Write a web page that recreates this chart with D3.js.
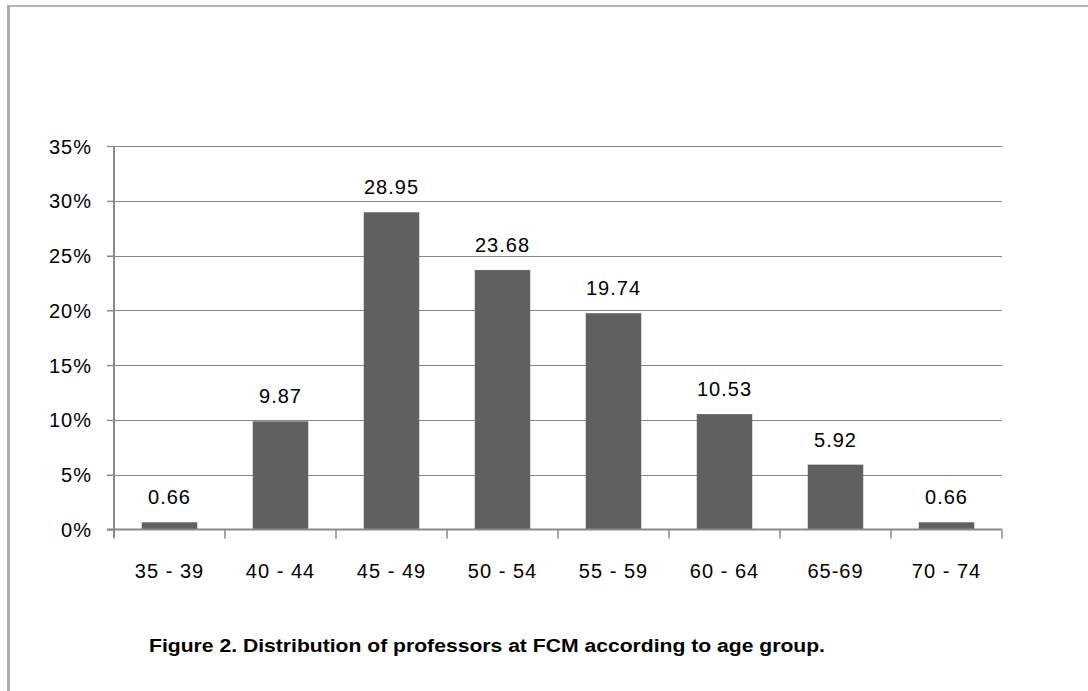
<!DOCTYPE html>
<html>
<head>
<meta charset="utf-8">
<script src="https://cdn.jsdelivr.net/npm/d3@7"></script>
<style>
html,body{margin:0;padding:0;background:#fff;}
svg{display:block;}
text{font-family:"Liberation Sans",Arial,sans-serif;}
</style>
</head>
<body>
<svg id="chart" width="1088" height="691"></svg>
<script>
const categories = ["35 - 39","40 - 44","45 - 49","50 - 54","55 - 59","60 - 64","65-69","70 - 74"];
const values = [0.66, 9.87, 28.95, 23.68, 19.74, 10.53, 5.92, 0.66];
const valueLabels = ["0.66","9.87","28.95","23.68","19.74","10.53","5.92","0.66"];
const yTicks = [0,5,10,15,20,25,30,35];
const caption = "Figure 2. Distribution of professors at FCM according to age group.";

(function(){
const svg = d3.select("#chart");
// outer frame
svg.append("line").attr("x1",8.5).attr("x2",1088).attr("y1",6).attr("y2",6)
  .attr("stroke","#b4b4b4").attr("stroke-width",2);
svg.append("line").attr("x1",8.5).attr("x2",8.5).attr("y1",5).attr("y2",691)
  .attr("stroke","#aaaaaa").attr("stroke-width",3);

const pLeft=114, pRight=1002, pTop=146, pBottom=529.5;
const x = d3.scaleBand().domain(categories).range([pLeft,pRight]).paddingInner(0.5).paddingOuter(0.25);
const xOuter = d3.scaleBand().domain(categories).range([pLeft,pRight]);
const y = d3.scaleLinear().domain([0,35]).range([pBottom,pTop]);

// gridlines
svg.append("g").selectAll("line").data(yTicks.filter(d=>d>0)).join("line")
  .attr("x1",pLeft-7).attr("x2",pRight)
  .attr("y1",d=>Math.round(y(d))+0.5).attr("y2",d=>Math.round(y(d))+0.5)
  .attr("stroke","#868686").attr("stroke-width",1.2);

// y axis
const yAxis = d3.axisLeft(y).tickValues(yTicks).tickSize(7).tickPadding(15)
  .tickFormat(d=>d+"%");
const gy = svg.append("g").attr("transform",`translate(${pLeft},0)`).call(yAxis);
gy.select(".domain").remove();
gy.append("line").attr("x1",0).attr("x2",0).attr("y1",pTop).attr("y2",pBottom+8)
  .attr("stroke","#8a8a8a").attr("stroke-width",2);
gy.selectAll(".tick line").attr("stroke","#868686").attr("stroke-width",1.2);
gy.selectAll(".tick text").attr("fill","#000").style("font-size","20px")
  .style("letter-spacing","1px").attr("dy","0.35em")
  .style("font-family","'Liberation Sans',Arial,sans-serif");

// bars
svg.append("g").selectAll("rect").data(values).join("rect")
  .attr("x",(d,i)=>x(categories[i]))
  .attr("width",x.bandwidth())
  .attr("y",d=>y(d))
  .attr("height",d=>pBottom-y(d))
  .attr("fill","#606060");

// x axis
const gx = svg.append("g").attr("transform",`translate(0,${pBottom})`);
gx.append("line").attr("x1",pLeft-7).attr("x2",pRight).attr("y1",0).attr("y2",0)
  .attr("stroke","#8a8a8a").attr("stroke-width",2);
const tickXs = categories.map(c=>xOuter(c)).concat([pRight]);
gx.selectAll("line.tk").data(tickXs).join("line").attr("class","tk")
  .attr("x1",d=>d).attr("x2",d=>d).attr("y1",0).attr("y2",9)
  .attr("stroke","#8a8a8a").attr("stroke-width",1.5);
gx.selectAll("text").data(categories).join("text")
  .attr("x",d=>xOuter(d)+xOuter.bandwidth()/2)
  .attr("y",48.5)
  .attr("text-anchor","middle")
  .style("font-size","20px").style("letter-spacing","1px")
  .attr("fill","#000")
  .text(d=>d);

// value labels
svg.append("g").selectAll("text").data(values).join("text")
  .attr("x",(d,i)=>x(categories[i])+x.bandwidth()/2)
  .attr("y",d=>y(d)-18)
  .attr("text-anchor","middle")
  .style("font-size","20px").style("letter-spacing","1px")
  .attr("fill","#000")
  .text((d,i)=>valueLabels[i]);

// caption
svg.append("text").attr("x",149).attr("y",652)
  .style("font-size","18px").style("font-weight","bold")
  .attr("textLength",676).attr("lengthAdjust","spacingAndGlyphs")
  .attr("fill","#000")
  .text(caption);
})();
</script>
</body>
</html>
